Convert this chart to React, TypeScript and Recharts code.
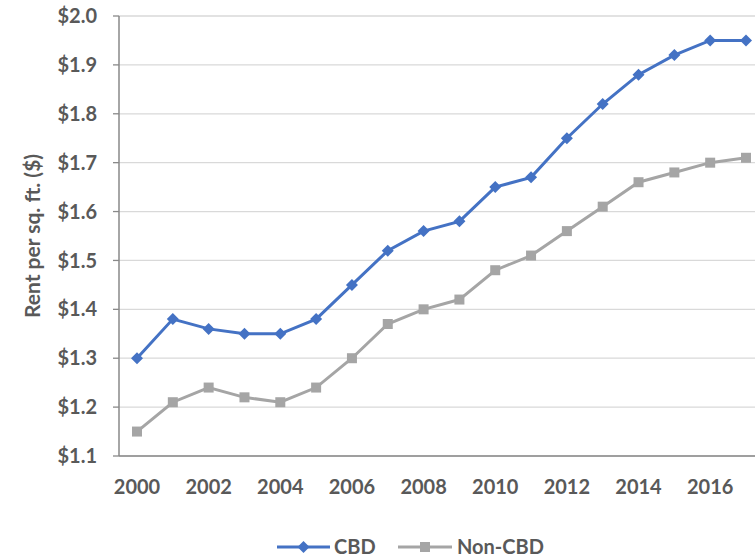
import React from "react";
import { LineChart, Line, XAxis, YAxis, CartesianGrid } from "recharts";

const years = [2000, 2001, 2002, 2003, 2004, 2005, 2006, 2007, 2008, 2009, 2010, 2011, 2012, 2013, 2014, 2015, 2016, 2017];
const cbd = [1.30, 1.38, 1.36, 1.35, 1.35, 1.38, 1.45, 1.52, 1.56, 1.58, 1.65, 1.67, 1.75, 1.82, 1.88, 1.92, 1.95, 1.95];
const nonCbd = [1.15, 1.21, 1.24, 1.22, 1.21, 1.24, 1.30, 1.37, 1.40, 1.42, 1.48, 1.51, 1.56, 1.61, 1.66, 1.68, 1.70, 1.71];
const yTicks = [1.1, 1.2, 1.3, 1.4, 1.5, 1.6, 1.7, 1.8, 1.9, 2.0];

const data = years.map((y, i) => ({ year: String(y), cbd: cbd[i], nonCbd: nonCbd[i] }));

const BLUE = "#4472C4";
const GRAY = "#A5A5A5";
const TEXT = "#595959";
const FONT = "Lato, 'Open Sans', sans-serif";

const Diamond = (props: any) => {
  const { cx, cy, index } = props;
  if (cx == null || cy == null) return null;
  const r = 6;
  return <path key={index} d={`M${cx},${cy - r}L${cx + r},${cy}L${cx},${cy + r}L${cx - r},${cy}Z`} fill={BLUE} />;
};
const Square = (props: any) => {
  const { cx, cy, index } = props;
  if (cx == null || cy == null) return null;
  const s = 5;
  return <rect key={index} x={cx - s} y={cy - s} width={2 * s} height={2 * s} fill={GRAY} />;
};

export default function App() {
  return (
    <div style={{ position: "absolute", left: 0, top: 0, width: 755, height: 559, overflow: "hidden", background: "#fff" }}>
      <LineChart width={764} height={559} data={data} margin={{ top: 16, right: 0, bottom: 73, left: 39 }}>
        <CartesianGrid vertical={false} stroke="#D9D9D9" strokeWidth={1.3} />
        <XAxis
          dataKey="year"
          interval={1}
          padding={{ left: 18, right: 18 }}
          tickLine={false}
          axisLine={{ stroke: "#898989", strokeWidth: 1.5 }}
          tickMargin={18}
          tick={{ fill: TEXT, fontSize: 20, fontWeight: 700, fontFamily: FONT }}
        />
        <YAxis
          width={80}
          domain={[1.1, 2.0]}
          ticks={yTicks}
          interval={0}
          tickFormatter={(v: number) => `$${v.toFixed(1)}`}
          tickSize={6}
          tickMargin={16}
          tickLine={{ stroke: "#898989", strokeWidth: 1.3 }}
          axisLine={{ stroke: "#898989", strokeWidth: 1.5 }}
          tick={{ fill: TEXT, fontSize: 20, fontWeight: 700, fontFamily: FONT }}
          label={{
            value: "Rent per sq. ft. ($)",
            angle: -90,
            position: "center",
            dx: -46,
            style: { fill: TEXT, fontSize: 21, fontWeight: 700, fontFamily: FONT, textAnchor: "middle" },
          }}
        />
        <Line dataKey="cbd" stroke={BLUE} strokeWidth={3} dot={<Diamond />} isAnimationActive={false} />
        <Line dataKey="nonCbd" stroke={GRAY} strokeWidth={3} dot={<Square />} isAnimationActive={false} />
      </LineChart>
      <svg width={755} height={30} style={{ position: "absolute", left: 0, top: 532 }}>
        <g fontFamily={FONT} fontSize={20} fontWeight={700} fill={TEXT}>
          <line x1={277} x2={330} y1={15} y2={15} stroke={BLUE} strokeWidth={3} />
          <path d="M303.5,9L309.5,15L303.5,21L297.5,15Z" fill={BLUE} />
          <text x={334} y={22}>CBD</text>
          <line x1={398} x2={452} y1={15} y2={15} stroke={GRAY} strokeWidth={3} />
          <rect x={420} y={10} width={10} height={10} fill={GRAY} />
          <text x={457} y={22}>Non-CBD</text>
        </g>
      </svg>
    </div>
  );
}
